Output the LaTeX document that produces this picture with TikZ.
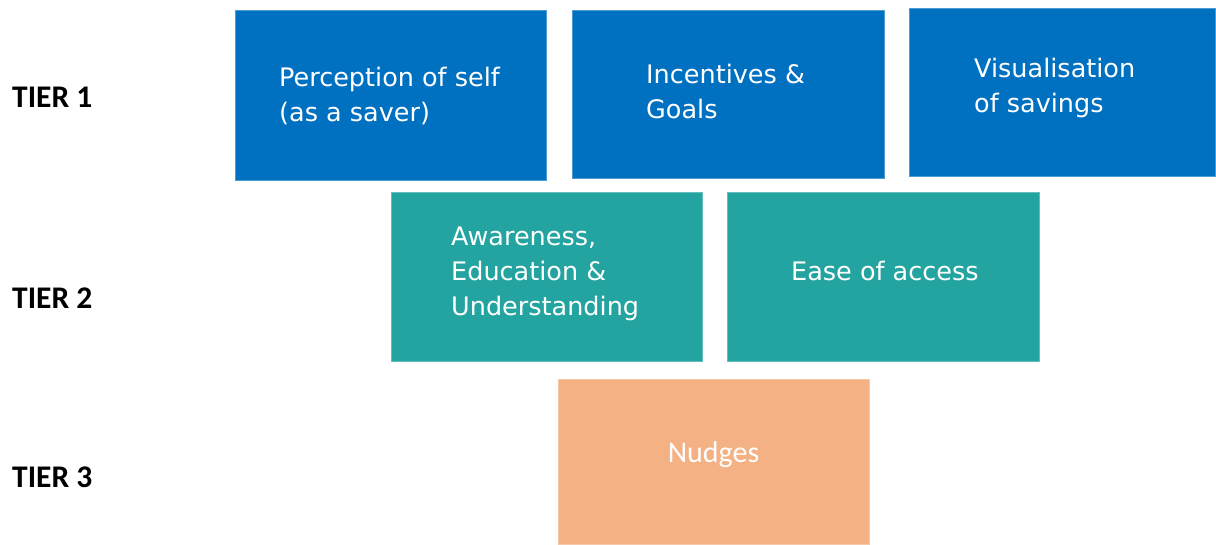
\documentclass[tikz,border=0pt]{standalone}
\usepackage{fontspec}
\setmainfont{DejaVu Sans}
\newfontfamily\carlito{Carlito}
\definecolor{tblue}{HTML}{0070C0}
\definecolor{tteal}{HTML}{24A4A0}
\definecolor{torange}{HTML}{F4B183}
\begin{document}
\begin{tikzpicture}[x=1pt,y=-1pt,
  box/.style={draw=#1!70!white, line width=0.8pt, fill=#1},
  txt/.style={text=white, anchor=west, align=left, inner sep=0pt,
    font=\fontsize{25.5}{35}\selectfont},
  tier/.style={anchor=west, inner sep=0pt, font=\carlito\bfseries\fontsize{31.5}{36}\selectfont}]
\useasboundingbox (0,0) rectangle (1216,545);
\fill[box=tblue] (235,10) rectangle (546,180);
\fill[box=tblue] (572,10) rectangle (884,178);
\fill[box=tblue] (909,8) rectangle (1215,176);
\fill[box=tteal] (391,192) rectangle (702,361);
\fill[box=tteal] (727,192) rectangle (1039,361);
\fill[box=torange] (558,379) rectangle (869,544);
\node[txt] (t1) at (279,96) {Perception of self\\(as a saver)};
\node[txt] (t2) at (646,91) {Incentives \&\\Goals};
\node[txt] (t3) at (974,88) {Visualisation\\of savings};
\node[txt] (t4) at (451,274) {Awareness,\\Education \&\\Understanding};
\node[txt] (t5) at (791,271) {Ease of access};
\node[text=white, inner sep=0pt, font=\carlito\fontsize{30}{36}\selectfont] (t6) at (713.5,455) {Nudges};
\node[tier] (l1) at (12,97) {TIER 1};
\node[tier] (l2) at (12,298) {TIER 2};
\node[tier] (l3) at (12,477) {TIER 3};
\end{tikzpicture}
\end{document}
